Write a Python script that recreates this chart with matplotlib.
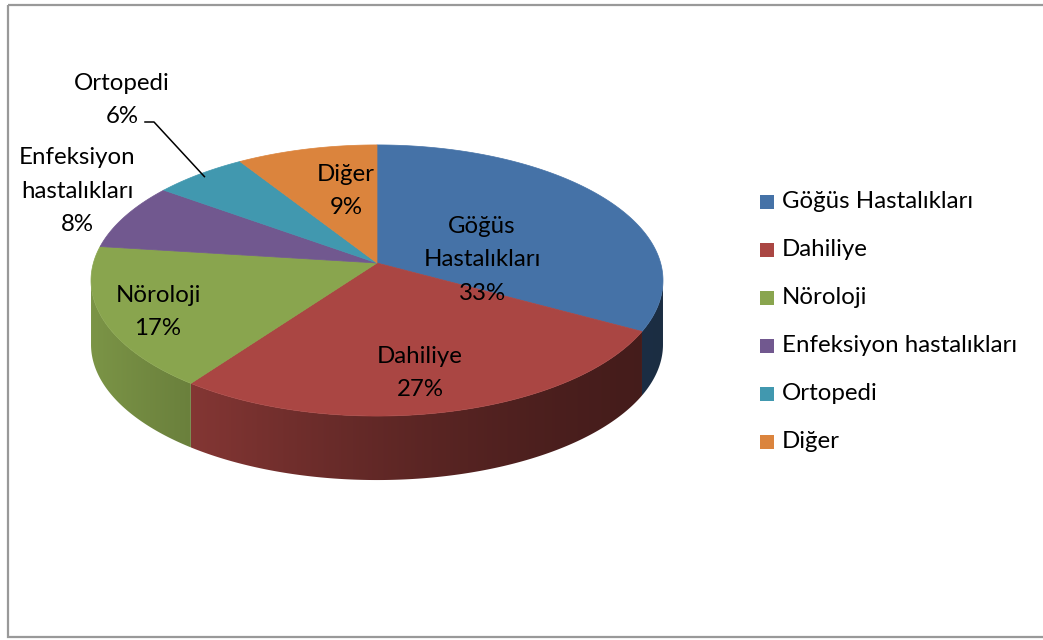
import numpy as np
import matplotlib
matplotlib.use("Agg")
import matplotlib.pyplot as plt
from matplotlib.patches import Polygon, Rectangle
from matplotlib.colors import to_rgb

# data
labels = ["Göğüs Hastalıkları", "Dahiliye", "Nöroloji",
          "Enfeksiyon hastalıkları", "Ortopedi", "Diğer"]
values = [33, 27, 17, 8, 6, 9]
colors = ["#4572a7", "#aa4643", "#89a54e", "#71588f", "#4198af", "#db843d"]

# slice label texts and where Excel put them (pixels)
label_txt = ["Göğüs\nHastalıkları\n33%", "Dahiliye\n27%", "Nöroloji\n17%",
             "Enfeksiyon\nhastalıkları\n8%", "Ortopedi\n6%", "Diğer\n9%"]
label_pos = [(482, 260), (420, 373), (158, 312), (77, 191), (122, 100), (346, 191)]

# pie geometry (pixel space, perspective tilt)
cx, cy = 377, 263
rx, ry, k = 283.6, 133.3, 0.129
depth = 64

FONT = "Lato"
FS = 17.3
LS = 1.72


def proj(t, r=1.0):
    u = r * np.cos(t)
    v = r * np.sin(t)
    return cx + rx * u / (1 + k * v), cy - ry * v / (1 + k * v)


def shade(x):
    s = np.clip((663 - x) / 572, 0, 1)
    return 0.4 + 0.5 * s ** 1.5


fig = plt.figure(figsize=(10.43, 6.4), dpi=100)
ax = fig.add_axes([0, 0, 1, 1])
ax.set_xlim(0, 1043)
ax.set_ylim(640, 0)
ax.axis("off")

# chart border
ax.add_patch(Rectangle((8, 5), 1060, 632, fill=False, ec="#999999", lw=1.6))

# slice angles, start at top going clockwise
fr = np.array(values) / sum(values)
edges = np.deg2rad(90 - 360 * np.concatenate([[0], np.cumsum(fr)]))

# side walls (only the front part is visible)
t_left = np.pi + np.arcsin(k)
t_right = 2 * np.pi - np.arcsin(k)
for i in range(len(values)):
    tt = np.mod(np.linspace(edges[i + 1], edges[i], 800), 2 * np.pi)
    seg = np.sort(tt[(tt >= t_left) & (tt <= t_right)])
    if len(seg) < 2:
        continue
    xs, ys = proj(seg)
    pts = list(zip(xs, ys)) + list(zip(xs[::-1], ys[::-1] + depth))
    poly = Polygon(pts, closed=True, fc="none", ec="none")
    ax.add_patch(poly)
    gx = np.linspace(xs.min(), xs.max(), 300)
    base = np.array(to_rgb(colors[i]))
    img = np.clip(base[None, None, :] * shade(gx)[None, :, None], 0, 1)
    im = ax.imshow(img, extent=(xs.min(), xs.max(), ys.max() + depth + 2, ys.min() - 2),
                   aspect="auto", interpolation="bilinear", zorder=2)
    im.set_clip_path(poly)

# top faces
for i in range(len(values)):
    ts = np.linspace(edges[i], edges[i + 1], 200)
    xs, ys = proj(ts)
    pts = [(cx, cy)] + list(zip(xs, ys))
    ax.add_patch(Polygon(pts, closed=True, fc=colors[i], ec=colors[i], lw=0.5, zorder=3))

ax.set_xlim(0, 1043)
ax.set_ylim(640, 0)

# labels
for txt, (lx, ly) in zip(label_txt, label_pos):
    ax.text(lx, ly, txt, ha="center", va="center", fontsize=FS, family=FONT,
            linespacing=LS, color="black", zorder=5)

# leader line for Ortopedi
mid = 0.5 * (edges[4] + edges[5])
ex, ey = proj(mid, 0.97)
ax.plot([145, 154, ex], [122, 122, ey], color="black", lw=1.1, zorder=5)

# legend
for i, (lab, col) in enumerate(zip(labels, colors)):
    yy = 202 + 48 * i
    ax.add_patch(Rectangle((760, yy - 7), 14, 14, fc=col, ec="none"))
    ax.text(782, yy, lab, ha="left", va="center", fontsize=FS, family=FONT, color="black")

fig.savefig("out.png", dpi=100)
